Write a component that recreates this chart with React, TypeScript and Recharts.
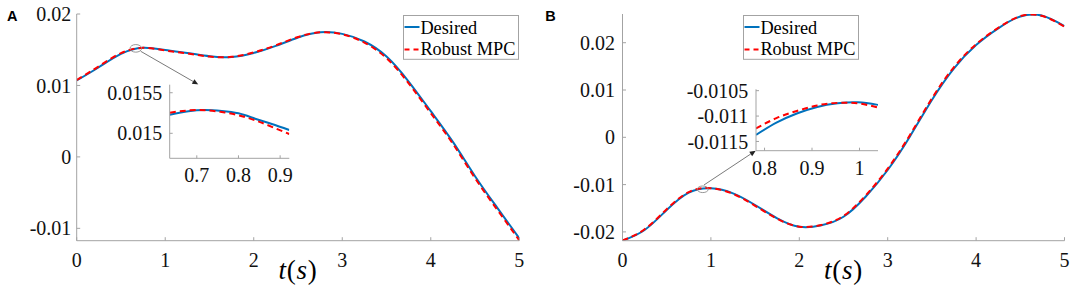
import React from 'react';
import {
  LineChart,
  Line,
  XAxis,
  YAxis,
  Legend,
  ReferenceDot,
  ReferenceLine,
  CartesianGrid,
} from 'recharts';

const FONT = "'Liberation Serif', 'Times New Roman', serif";
const AXIS = '#a3a3a3';
const BLUE = '#0072BD';
const RED = '#FF0000';
const LABEL = '#111';

// ---------- Panel A data ----------
const tA = [0, 0.25, 0.5, 0.75, 1, 1.25, 1.5, 1.75, 2, 2.25, 2.5, 2.75, 3, 3.25, 3.5, 3.75, 4, 4.25, 4.5, 4.75, 5];
const desiredA = [0.0107, 0.01255, 0.01442, 0.01528, 0.01495, 0.01454, 0.01408, 0.01398, 0.01455, 0.01553, 0.01672, 0.01743, 0.01722, 0.01615, 0.01405, 0.01055, 0.0064, 0.0021, -0.0027, -0.0071, -0.0114];
const robustA = [0.01075, 0.01268, 0.01452, 0.01526, 0.0149, 0.01448, 0.01404, 0.014, 0.01462, 0.01562, 0.01678, 0.01743, 0.01716, 0.016, 0.01382, 0.0103, 0.00612, 0.00182, -0.00298, -0.00738, -0.01168];
const yTicksA = [-0.01, 0, 0.01, 0.02];
const yDomainA = [-0.01173, 0.02];

// Inset A
const tIA = [0.635, 0.68, 0.72, 0.76, 0.8, 0.84, 0.88, 0.922];
const desiredIA = [0.015229, 0.015272, 0.015287, 0.015276, 0.015246, 0.01518, 0.015115, 0.015041];
const robustIA = [0.015254, 0.015282, 0.015285, 0.015262, 0.015222, 0.01516, 0.01508, 0.014991];
const xTicksIA = [0.7, 0.8, 0.9];
const yTicksIA = [0.015, 0.0155];
const xDomainIA = [0.635, 0.922];
const yDomainIA = [0.014692, 0.015599];

// ---------- Panel B data ----------
const tB = [0, 0.25, 0.5, 0.75, 1, 1.25, 1.5, 1.75, 2, 2.25, 2.5, 2.75, 3, 3.25, 3.5, 3.75, 4, 4.25, 4.5, 4.75, 5];
const desiredB = [-0.02185, -0.0196, -0.01537, -0.0117, -0.01078, -0.01184, -0.01431, -0.01712, -0.0189, -0.0186, -0.01679, -0.01256, -0.00691, 0.00013, 0.00789, 0.01459, 0.01951, 0.02304, 0.02555, 0.0257, 0.02353];
const robustB = [-0.02182, -0.01945, -0.0152, -0.01158, -0.01076, -0.01195, -0.01448, -0.01722, -0.0189, -0.01852, -0.01662, -0.01232, -0.00662, 0.00045, 0.00822, 0.01485, 0.01968, 0.02314, 0.02562, 0.02565, 0.0234];
const yTicksB = [-0.02, -0.01, 0, 0.01, 0.02];
const yDomainB = [-0.02186, 0.02607];

// Inset B
const tIB = [0.782, 0.825, 0.868, 0.911, 0.954, 0.997, 1.039];
const desiredIB = [-0.01137, -0.01113, -0.01095, -0.01082, -0.01075, -0.01073, -0.01078];
const robustIB = [-0.011245, -0.01104, -0.0109, -0.01079, -0.01074, -0.01075, -0.01083];
const xTicksIB = [0.8, 0.9, 1];
const yTicksIB = [-0.0115, -0.011, -0.0105];
const xDomainIB = [0.782, 1.039];
const yDomainIB = [-0.011682, -0.010473];

const xTicksMain = [0, 1, 2, 3, 4, 5];
const xDomainMain = [0, 5];

const SERIES = [
  { key: 'desired', name: 'Desired', color: BLUE, dash: undefined as string | undefined },
  { key: 'robust', name: 'Robust MPC', color: RED, dash: '6 4' },
];

const rows = (t: number[], d: number[], r: number[]) =>
  t.map((x, i) => ({ t: x, desired: d[i], robust: r[i] }));

const fmt = (v: number) => String(v);
const blank = () => '';

const TLabel = (props: any) => {
  const vb = props.viewBox || { x: 0, width: 0 };
  const cx = vb.x + vb.width / 2;
  return (
    <text
      x={cx}
      y={278.5}
      textAnchor="middle"
      fontFamily={FONT}
      style={{ fontFamily: FONT }}
      fontSize={27}
      fill="#000"
      letterSpacing={0.8}
    >
      <tspan fontStyle="italic">t</tspan>
      <tspan>(</tspan>
      <tspan fontStyle="italic">s</tspan>
      <tspan>)</tspan>
    </text>
  );
};

const LegendBox = (props: any) => {
  const payload = props.payload || [];
  return (
    <svg width={116} height={45} style={{ display: 'block', overflow: 'visible' }}>
      <rect x={0.5} y={0.5} width={115} height={43.8} fill="#fff" stroke={AXIS} strokeWidth={1} />
      {payload.map((p: any, i: number) => {
        const s = SERIES.find((q) => q.key === p.dataKey) || SERIES[i];
        const ly = i === 0 ? 12 : 34.6;
        const ty = i === 0 ? 18.6 : 40.3;
        return (
          <g key={s.key}>
            <line x1={1.5} x2={16.5} y1={ly} y2={ly} stroke={s.color} strokeWidth={2} strokeDasharray={s.dash ? '5 4' : undefined} />
            <text x={17.4} y={ty} fontFamily={FONT} style={{ fontFamily: FONT }} fontSize={18.3} fill="#000">
              {s.name}
            </text>
          </g>
        );
      })}
    </svg>
  );
};

const Ellipse = (rx: number, ry: number) => (p: any) => (
  <ellipse cx={p.cx} cy={p.cy} rx={rx} ry={ry} fill="none" stroke="#8c8c8c" strokeWidth={0.9} />
);

const Arrow = (p: any) => {
  const { x1, y1, x2, y2 } = p;
  if (![x1, y1, x2, y2].every((v: any) => typeof v === 'number')) return null;
  const ang = Math.atan2(y2 - y1, x2 - x1);
  const L = 6;
  const W = 2.6;
  const bx = x2 - L * Math.cos(ang);
  const by = y2 - L * Math.sin(ang);
  const nx = -Math.sin(ang) * W;
  const ny = Math.cos(ang) * W;
  return (
    <g>
      <line x1={x1} y1={y1} x2={bx} y2={by} stroke="#7a7a7a" strokeWidth={1} />
      <polygon points={`${x2},${y2} ${bx + nx},${by + ny} ${bx - nx},${by - ny}`} fill="#222" />
    </g>
  );
};

type MainProps = {
  left: number;
  width: number;
  plotLeft: number;
  plotRight: number;
  data: any[];
  yDomain: number[];
  yTicks: number[];
  yTickMargin: number;
  legendLeft: number;
  ell: { x: number; y: number; rx: number; ry: number };
  arrow: { x1: number; y1: number; x2: number; y2: number };
};

const tickStyle = { fill: LABEL, fontSize: 20, fontFamily: FONT, style: { fontFamily: FONT } };

function MainPanel(p: MainProps) {
  return (
    <div style={{ position: 'absolute', left: p.left, top: 0, width: p.width, height: 285 }}>
      <LineChart
        width={p.width}
        height={285}
        data={p.data}
        margin={{ top: 14, right: p.left + p.width - p.plotRight, bottom: 0, left: 0 }}
      >
        <XAxis
          dataKey="t"
          type="number"
          domain={xDomainMain}
          ticks={xTicksMain}
          interval={0}
          height={44.3}
          tickSize={-3.5}
          tickMargin={15.3}
          stroke={AXIS}
          tick={tickStyle}
          allowDataOverflow
          label={TLabel}
        />
        <XAxis
          xAxisId="top"
          orientation="top"
          dataKey="t"
          type="number"
          domain={xDomainMain}
          ticks={xTicksMain}
          interval={0}
          height={0}
          tickSize={-3.5}
          stroke={AXIS}
          tickFormatter={blank}
          allowDataOverflow
        />
        <YAxis
          type="number"
          domain={p.yDomain}
          ticks={p.yTicks}
          interval={0}
          width={p.plotLeft - p.left}
          tickSize={-3.5}
          tickMargin={p.yTickMargin}
          stroke={AXIS}
          tick={tickStyle}
          tickFormatter={fmt}
          allowDataOverflow
        />
        <YAxis
          yAxisId="right"
          orientation="right"
          type="number"
          domain={p.yDomain}
          ticks={p.yTicks}
          interval={0}
          width={0}
          tickSize={-3.5}
          stroke={AXIS}
          tickFormatter={blank}
          allowDataOverflow
        />
        {SERIES.map((s) => (
          <Line
            key={s.key}
            dataKey={s.key}
            name={s.name}
            type="natural"
            stroke={s.color}
            strokeWidth={2}
            strokeDasharray={s.dash}
            dot={false}
            activeDot={false}
            isAnimationActive={false}
          />
        ))}
        <ReferenceDot x={p.ell.x} y={p.ell.y} r={4} shape={Ellipse(p.ell.rx, p.ell.ry)} />
        <ReferenceLine
          segment={[
            { x: p.arrow.x1, y: p.arrow.y1 },
            { x: p.arrow.x2, y: p.arrow.y2 },
          ]}
          shape={Arrow}
        />
        <Legend
          layout="horizontal"
          verticalAlign="middle"
          align="center"
          content={LegendBox}
          wrapperStyle={{ left: p.legendLeft - p.left, top: 14.7, width: 116, height: 45, margin: 0, padding: 0 }}
        />
      </LineChart>
    </div>
  );
}

type InsetProps = {
  left: number;
  top: number;
  width: number;
  height: number;
  boxLeft: number;
  boxRight: number;
  boxTop: number;
  boxBottom: number;
  data: any[];
  xDomain: number[];
  xTicks: number[];
  yDomain: number[];
  yTicks: number[];
  xTickMargin: number;
  yTickMargin: number;
};

function Inset(p: InsetProps) {
  return (
    <div style={{ position: 'absolute', left: p.left, top: p.top, width: p.width, height: p.height }}>
      <LineChart
        width={p.width}
        height={p.height}
        data={p.data}
        margin={{ top: p.boxTop - p.top, right: p.left + p.width - p.boxRight, bottom: 0, left: 0 }}
      >
        <CartesianGrid horizontal={false} vertical={false} fill="#fff" fillOpacity={1} stroke="none" />
        <XAxis
          dataKey="t"
          type="number"
          domain={p.xDomain}
          ticks={p.xTicks}
          interval={0}
          height={p.top + p.height - p.boxBottom}
          tickSize={-3}
          tickMargin={p.xTickMargin}
          stroke={AXIS}
          tick={tickStyle}
          tickFormatter={fmt}
          allowDataOverflow
        />
        <XAxis
          xAxisId="top"
          orientation="top"
          dataKey="t"
          type="number"
          domain={p.xDomain}
          ticks={p.xTicks}
          interval={0}
          height={0}
          tickSize={-3}
          stroke={AXIS}
          tickFormatter={blank}
          allowDataOverflow
        />
        <YAxis
          type="number"
          domain={p.yDomain}
          ticks={p.yTicks}
          interval={0}
          width={p.boxLeft - p.left}
          tickSize={-3}
          tickMargin={p.yTickMargin}
          stroke={AXIS}
          tick={tickStyle}
          tickFormatter={fmt}
          allowDataOverflow
        />
        <YAxis
          yAxisId="right"
          orientation="right"
          type="number"
          domain={p.yDomain}
          ticks={p.yTicks}
          interval={0}
          width={0}
          tickSize={-3}
          stroke={AXIS}
          tickFormatter={blank}
          allowDataOverflow
        />
        {SERIES.map((s) => (
          <Line
            key={s.key}
            dataKey={s.key}
            name={s.name}
            type="natural"
            stroke={s.color}
            strokeWidth={2}
            strokeDasharray={s.dash}
            dot={false}
            activeDot={false}
            isAnimationActive={false}
          />
        ))}
      </LineChart>
    </div>
  );
}

const PanelLetter = ({ x, text }: { x: number; text: string }) => (
  <svg style={{ position: 'absolute', left: 0, top: 0 }} width={1084} height={30}>
    <text x={x} y={20.7} fontFamily="'Liberation Sans', Arial, sans-serif" fontWeight="bold" fontSize={14.5} fill="#000">
      {text}
    </text>
  </svg>
);

export default function App() {
  const dataA = rows(tA, desiredA, robustA);
  const dataB = rows(tB, desiredB, robustB);
  const dataIA = rows(tIA, desiredIA, robustIA);
  const dataIB = rows(tIB, desiredIB, robustIB);
  return (
    <div style={{ position: 'absolute', left: 0, top: 0, width: 1084, height: 285, background: '#fff', overflow: 'hidden' }}>
      <MainPanel
        left={0}
        width={540}
        plotLeft={76.7}
        plotRight={519.3}
        data={dataA}
        yDomain={yDomainA}
        yTicks={yTicksA}
        yTickMargin={8.9}
        legendLeft={403.3}
        ell={{ x: 0.668, y: 0.01519, rx: 5.8, ry: 3.8 }}
        arrow={{ x1: 0.723, y1: 0.01478, x2: 1.374, y2: 0.01014 }}
      />
      <MainPanel
        left={540}
        width={544}
        plotLeft={622.5}
        plotRight={1064.5}
        data={dataB}
        yDomain={yDomainB}
        yTicks={yTicksB}
        yTickMargin={11}
        legendLeft={743}
        ell={{ x: 0.908, y: -0.01099, rx: 5.5, ry: 3.3 }}
        arrow={{ x1: 0.922, y1: -0.01008, x2: 1.507, y2: -0.00283 }}
      />
      <Inset
        left={100}
        top={74}
        width={200}
        height={115}
        boxLeft={169.7}
        boxRight={289.3}
        boxTop={84.7}
        boxBottom={158.3}
        data={dataIA}
        xDomain={xDomainIA}
        xTicks={xTicksIA}
        yDomain={yDomainIA}
        yTicks={yTicksIA}
        xTickMargin={12.2}
        yTickMargin={10.4}
      />
      <Inset
        left={680}
        top={75}
        width={210}
        height={110}
        boxLeft={756}
        boxRight={878}
        boxTop={89.3}
        boxBottom={150.7}
        data={dataIB}
        xDomain={xDomainIB}
        xTicks={xTicksIB}
        yDomain={yDomainIB}
        yTicks={yTicksIB}
        xTickMargin={13.1}
        yTickMargin={10.7}
      />
      <PanelLetter x={6.9} text="A" />
      <PanelLetter x={545.2} text="B" />
    </div>
  );
}
